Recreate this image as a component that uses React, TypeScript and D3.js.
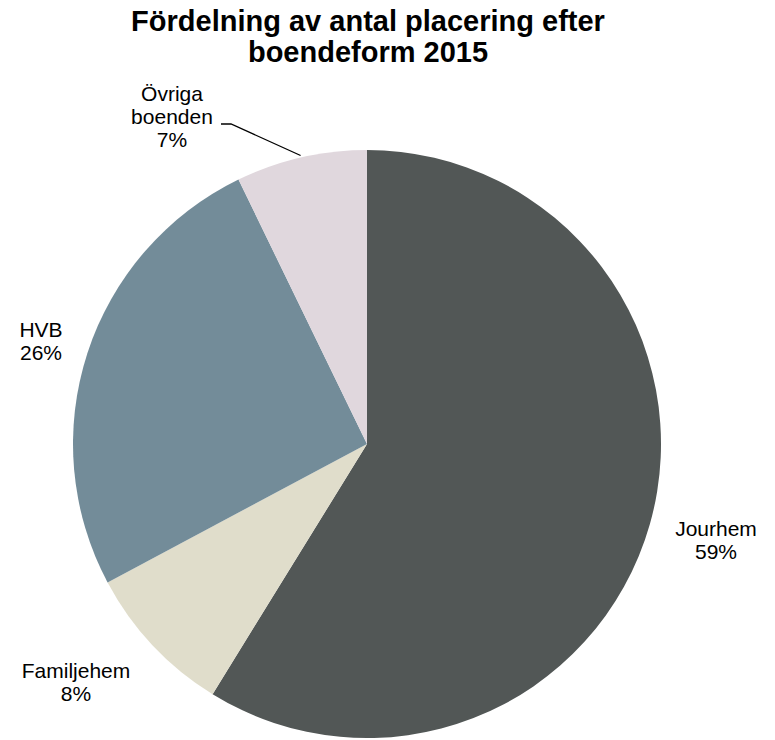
import React from "react";
import * as d3 from "d3";

const categories = ["Jourhem", "Familjehem", "HVB", "Övriga boenden"];
const values = [58.8, 8.4, 25.6, 7.2];
const colors = ["#525756", "#E0DDCB", "#738C99", "#E0D7DD"];
const titleLines = ["Fördelning av antal placering efter", "boendeform 2015"];

const W = 775;
const H = 740;
const cx = 367;
const cy = 444;
const R = 294;

// label layout (center x, first baseline y)
const labelPos = [
  { x: 716, y: 536, lines: ["Jourhem"] },
  { x: 76, y: 678, lines: ["Familjehem"] },
  { x: 41, y: 337, lines: ["HVB"] },
  { x: 172, y: 101, lines: ["Övriga", "boenden"] },
];

export default function App() {
  const pie = d3.pie<number>().sort(null).value((d) => d);
  const arcs = pie(values);
  const arc = d3.arc<d3.PieArcDatum<number>>().innerRadius(0).outerRadius(R);
  const total = d3.sum(values);
  const font = "'Liberation Sans', Arial, sans-serif";

  // leader line for Övriga
  const ov = arcs[3];
  const midA = (ov.startAngle + ov.endAngle) / 2;
  const ex = cx + Math.sin(midA) * (R + 2);
  const ey = cy - Math.cos(midA) * (R + 2);

  return (
    <div style={{ position: "absolute", left: 0, top: 0 }}>
      <svg width={W} height={H} style={{ display: "block", background: "#fff" }}>
        <g fontFamily={font} fontWeight="bold" fontSize={29} textAnchor="middle" fill="#000">
          {titleLines.map((t, i) => (
            <text key={i} x={368} y={31 + i * 31}>
              {t}
            </text>
          ))}
        </g>
        <g transform={`translate(${cx},${cy})`}>
          {arcs.map((a, i) => (
            <path key={i} d={arc(a) || ""} fill={colors[i]} />
          ))}
        </g>
        <polyline
          points={`221,124 231,124 ${ex.toFixed(1)},${ey.toFixed(1)}`}
          fill="none"
          stroke="#000"
          strokeWidth={1.3}
        />
        <g fontFamily={font} fontSize={21} textAnchor="middle" fill="#000">
          {labelPos.map((p, i) => {
            const lines = [...p.lines, `${Math.round((values[i] / total) * 100)}%`];
            return (
              <text key={categories[i]} x={p.x} y={p.y}>
                {lines.map((l, j) => (
                  <tspan key={j} x={p.x} y={p.y + j * 23}>
                    {l}
                  </tspan>
                ))}
              </text>
            );
          })}
        </g>
      </svg>
    </div>
  );
}
